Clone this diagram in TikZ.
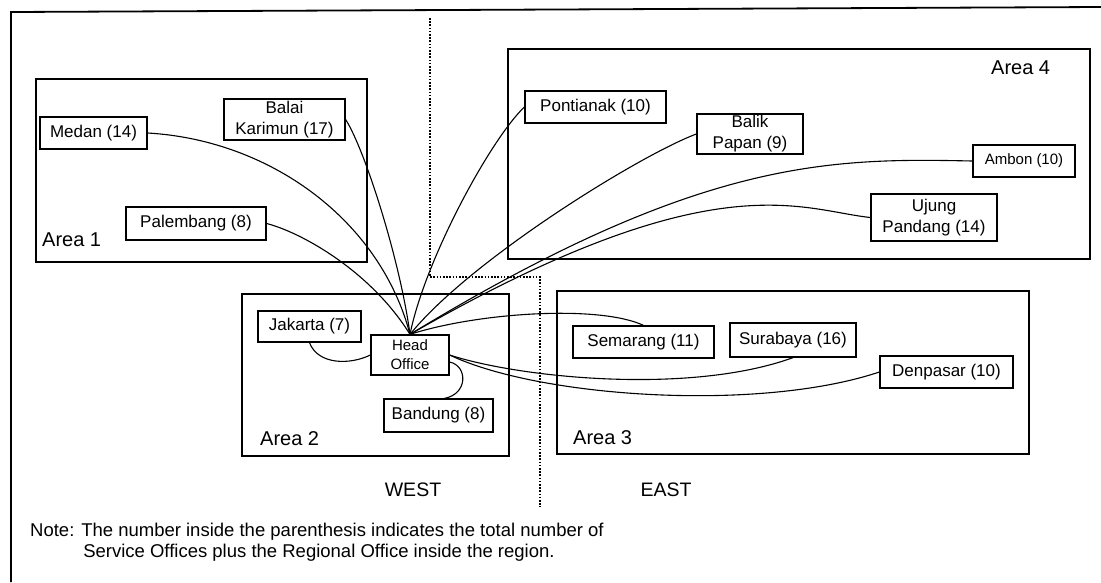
\documentclass[tikz,border=0pt]{standalone}
\usepackage{fontspec}
\setmainfont{Liberation Sans}
\begin{document}
\begin{tikzpicture}[x=1pt,y=-1pt,
  office/.style={draw,line width=1.3pt,inner sep=0pt,align=center,
    font=\fontsize{17}{21}\selectfont},
  smalloffice/.style={office,font=\fontsize{15}{19}\selectfont},
  area/.style={draw,line width=1.4pt},
  arealabel/.style={anchor=west,inner sep=0pt,font=\fontsize{20}{24}\selectfont},
  link/.style={line width=1.1pt},
  divider/.style={line width=1.3pt,dash pattern=on 1.6pt off 1.6pt},
  notetext/.style={anchor=north west,inner sep=0pt,align=left,
    font=\fontsize{18.5}{21}\selectfont}]
\useasboundingbox (0,0) rectangle (1101,582);

% page frame
\draw[line width=1.8pt] (1101,7) -- (11,12) -- (11,582);

% WEST / EAST divider
\draw[divider] (430,18) -- (430,277) -- (540,277) -- (540,507);

% areas
\draw[area] (36,79) rectangle (367,262);
\draw[area] (508,49) rectangle (1090,259);
\draw[area] (242,294) rectangle (509,456);
\draw[area] (557,291) rectangle (1029,454);

\node[arealabel] (a1) at (42,240) {Area 1};
\node[arealabel] (a4) at (991,68) {Area 4};
\node[arealabel] (a2) at (260,439) {Area 2};
\node[arealabel] (a3) at (573,438) {Area 3};

% offices
\node[office,minimum width=107,minimum height=32] (medan) at (93.5,133) {Medan (14)};
\node[office,minimum width=121,minimum height=41] (balai) at (284.5,119.5) {Balai\\Karimun (17)};
\node[office,minimum width=140,minimum height=33] (palem) at (196,223.5) {Palembang (8)};
\node[office,minimum width=141,minimum height=32] (pont) at (595.5,107) {Pontianak (10)};
\node[office,minimum width=106,minimum height=40] (balik) at (750,134) {Balik\\Papan (9)};
\node[smalloffice,minimum width=102,minimum height=32] (ambon) at (1024,161) {Ambon (10)};
\node[office,minimum width=126,minimum height=47] (ujung) at (934,217.5) {Ujung\\Pandang (14)};
\node[office,minimum width=103,minimum height=31] (jak) at (309.5,326.5) {Jakarta (7)};
\node[smalloffice,minimum width=78,minimum height=40] (ho) at (410,355) {Head\\Office};
\node[office,minimum width=109,minimum height=33] (band) at (438.5,415.5) {Bandung (8)};
\node[office,minimum width=141,minimum height=32] (sema) at (643.5,342) {Semarang (11)};
\node[office,minimum width=126,minimum height=34] (sura) at (793,340) {Surabaya (16)};
\node[office,minimum width=133,minimum height=32] (denp) at (946.5,372) {Denpasar (10)};

% links to the head office
\draw[link] (medan.east) .. controls (270,140) and (380,220) .. (ho.north);
\draw[link] (balai.east) .. controls (365,150) and (400,260) .. (ho.north);
\draw[link] (palem.east) .. controls (300,232) and (370,270) .. (ho.north);
\draw[link] (pont.west) .. controls (490,140) and (425,260) .. (ho.north);
\draw[link] (balik.west) .. controls (640,155) and (470,260) .. (ho.north);
\draw[link] (ambon.west) .. controls (830,158) and (700,158) .. (ho.north);
\draw[link] (ujung.west) .. controls (800,210) and (713,160) .. (ho.north);
\draw[link] (ho.north) .. controls (480,312) and (600,305) .. (sema.north);
\draw[link] (ho.east) .. controls (520,378) and (690,395) .. (sura.south);
\draw[link] (ho.east) .. controls (540,398) and (760,412) .. (denp.west);
\draw[link] (jak.south) .. controls (318,365) and (350,365) .. (ho.west);
\draw[link] ([yshift=-7pt]ho.east) .. controls (468,366) and (468,394) .. ([xshift=6pt]band.north);

% region names and note
\node[font=\fontsize{19.5}{23}\selectfont] (west) at (413,490) {WEST};
\node[font=\fontsize{19.5}{23}\selectfont] (east) at (666,490) {EAST};
\node[notetext] (note) at (30,523) {Note: The number inside the parenthesis indicates the total number of\\
  \hphantom{Note: }\hspace{2pt}Service Offices plus the Regional Office inside the region.};
\end{tikzpicture}
\end{document}
